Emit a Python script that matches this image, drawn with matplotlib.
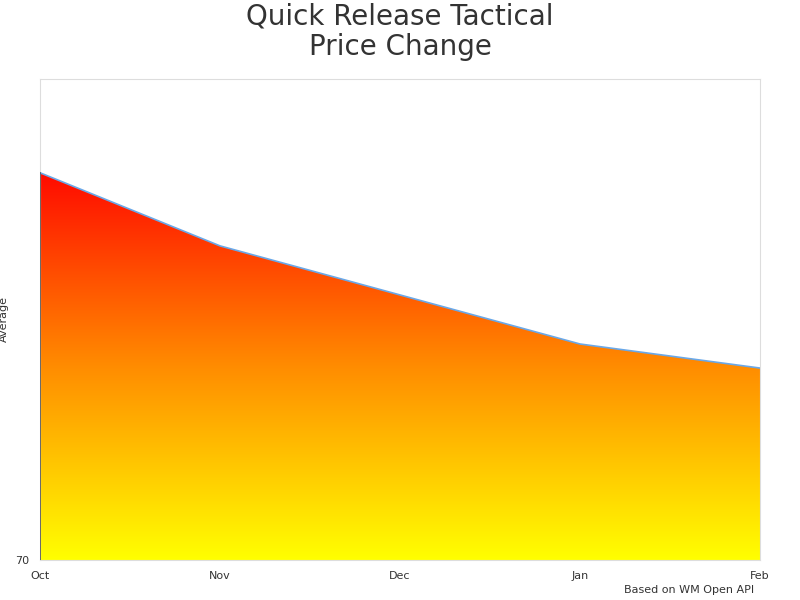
import numpy as np
import matplotlib.pyplot as plt
from matplotlib.colors import LinearSegmentedColormap

months = ["Oct", "Nov", "Dec", "Jan", "Feb"]
values = [78.05, 76.53, 75.51, 74.49, 73.99]
ymin, ymax = 70, 80

fig = plt.figure(figsize=(8, 6), dpi=100)
ax = fig.add_axes([0.05, 0.0667, 0.9, 0.8017])
x = np.arange(len(months))
ax.set_xlim(0, len(months) - 1)
ax.set_ylim(ymin, ymax)

cmap = LinearSegmentedColormap.from_list("ry", ["#ffff00", "#ff8c00", "#ff0a00"])
grad = np.linspace(0, 1, 256).reshape(-1, 1)
im = ax.imshow(grad, cmap=cmap, origin="lower", aspect="auto",
               extent=[0, len(months) - 1, ymin, max(values)], zorder=1)
poly = ax.fill_between(x, values, ymin, color="none")
path = poly.get_paths()[0]
im.set_clip_path(path, transform=ax.transData)
ax.plot(x, values, color="#6aa8e8", lw=1.2, zorder=3)
ax.plot([0, 0], [ymin, values[0]], color="#555555", lw=1.2, zorder=3)

ax.set_xticks(x)
ax.set_xticklabels(months, fontsize=8, color="#333333")
ax.set_yticks([70])
ax.set_yticklabels(["70"], fontsize=8, color="#333333")
ax.tick_params(length=0, pad=8)
ax.set_ylabel("Average", fontsize=8, color="#333333")
ax.yaxis.set_label_coords(-0.043, 0.5)
for s in ax.spines.values():
    s.set_color("#dddddd")
fig.suptitle("Quick Release Tactical\nPrice Change", fontsize=20, color="#333333",
             y=0.995, linespacing=1.1)
fig.text(0.943, 0.008, "Based on WM Open API", fontsize=8, color="#333333",
         ha="right", va="bottom")
fig.savefig("out.png")
